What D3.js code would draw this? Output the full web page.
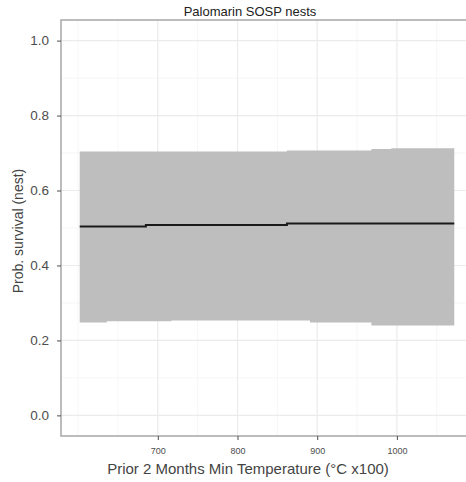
<!DOCTYPE html>
<html>
<head>
<meta charset="utf-8">
<script src="https://d3js.org/d3.v7.min.js"></script>
<style>
  body { margin: 0; background: #fff; }
  svg { display: block; font-family: "Liberation Sans", Arial, sans-serif; }
  .axis path { display: none; }
  .axis line { stroke: #4d4d4d; }
  .axis text { fill: #4d4d4d; }
</style>
</head>
<body>
<svg id="chart" width="466" height="482"></svg>
<script>
// temperature breakpoints (°C x100) and fitted survival with CI
var temps = [602, 636, 685, 717, 862, 891, 968, 993, 1072];
var fit   = [0.504, 0.504, 0.508, 0.508, 0.512, 0.512, 0.512, 0.512, 0.512];
var upper = [0.704, 0.704, 0.704, 0.704, 0.707, 0.707, 0.711, 0.713, 0.713];
var lower = [0.248, 0.251, 0.251, 0.253, 0.253, 0.248, 0.240, 0.240, 0.240];

var xTicks = [700, 800, 900, 1000];
var xMinor = [600, 650, 750, 850, 950, 1050];
var yTicks = [0, 0.2, 0.4, 0.6, 0.8, 1.0];
var yMinor = [0.1, 0.3, 0.5, 0.7, 0.9];

var panel = { left: 61, top: 20, right: 473, bottom: 436 };

var svg = d3.select("#chart");

var x = d3.scaleLinear().domain([578.5, 1095.5]).range([panel.left, panel.right]);
var y = d3.scaleLinear().domain([-0.055, 1.055]).range([panel.bottom, panel.top]);

var data = temps.map(function (t, i) {
    return { t: t, fit: fit[i], lo: lower[i], hi: upper[i] };
});

// grid
var grid = svg.append("g");
grid.selectAll("line.ymin").data(yMinor).enter().append("line")
    .attr("x1", panel.left).attr("x2", panel.right)
    .attr("y1", y).attr("y2", y)
    .attr("stroke", "#f4f4f4").attr("stroke-width", 0.8);
grid.selectAll("line.xmin").data(xMinor).enter().append("line")
    .attr("y1", panel.top).attr("y2", panel.bottom)
    .attr("x1", x).attr("x2", x)
    .attr("stroke", "#f4f4f4").attr("stroke-width", 0.8);
grid.selectAll("line.ymaj").data(yTicks).enter().append("line")
    .attr("x1", panel.left).attr("x2", panel.right)
    .attr("y1", y).attr("y2", y)
    .attr("stroke", "#ebebeb").attr("stroke-width", 1.2);
grid.selectAll("line.xmaj").data(xTicks).enter().append("line")
    .attr("y1", panel.top).attr("y2", panel.bottom)
    .attr("x1", x).attr("x2", x)
    .attr("stroke", "#ebebeb").attr("stroke-width", 1.2);

// ribbon and fit line
svg.append("path")
    .datum(data)
    .attr("fill", "#bebebe")
    .attr("d", d3.area()
        .curve(d3.curveStepAfter)
        .x(function (d) { return x(d.t); })
        .y0(function (d) { return y(d.lo); })
        .y1(function (d) { return y(d.hi); }));

svg.append("path")
    .datum(data)
    .attr("fill", "none")
    .attr("stroke", "#1a1a1a")
    .attr("stroke-width", 2)
    .attr("d", d3.line()
        .curve(d3.curveStepAfter)
        .x(function (d) { return x(d.t); })
        .y(function (d) { return y(d.fit); }));

// panel border
svg.append("rect")
    .attr("x", panel.left).attr("y", panel.top)
    .attr("width", panel.right - panel.left)
    .attr("height", panel.bottom - panel.top)
    .attr("fill", "none")
    .attr("stroke", "#a6a6a6")
    .attr("stroke-width", 1.5);

// axes
svg.append("g")
    .attr("class", "axis")
    .attr("transform", "translate(" + panel.left + ",0)")
    .call(d3.axisLeft(y).tickValues(yTicks).tickSize(4).tickPadding(8).tickFormat(d3.format(".1f")))
    .selectAll("text").style("font-size", "13.5px");

svg.append("g")
    .attr("class", "axis")
    .attr("transform", "translate(0," + panel.bottom + ")")
    .call(d3.axisBottom(x).tickValues(xTicks).tickSize(4).tickPadding(8).tickFormat(d3.format("d")))
    .selectAll("text").style("font-size", "9px");

// titles
svg.append("text")
    .attr("x", 250).attr("y", 16)
    .attr("text-anchor", "middle")
    .style("font-size", "13px")
    .attr("fill", "#222")
    .text("Palomarin SOSP nests");

svg.append("text")
    .attr("x", 248).attr("y", 474)
    .attr("text-anchor", "middle")
    .style("font-size", "15px")
    .attr("fill", "#444")
    .text("Prior 2 Months Min Temperature (°C x100)");

svg.append("text")
    .attr("transform", "translate(23,231) rotate(-90)")
    .attr("text-anchor", "middle")
    .style("font-size", "14px")
    .attr("fill", "#444")
    .text("Prob. survival (nest)");
</script>
</body>
</html>
